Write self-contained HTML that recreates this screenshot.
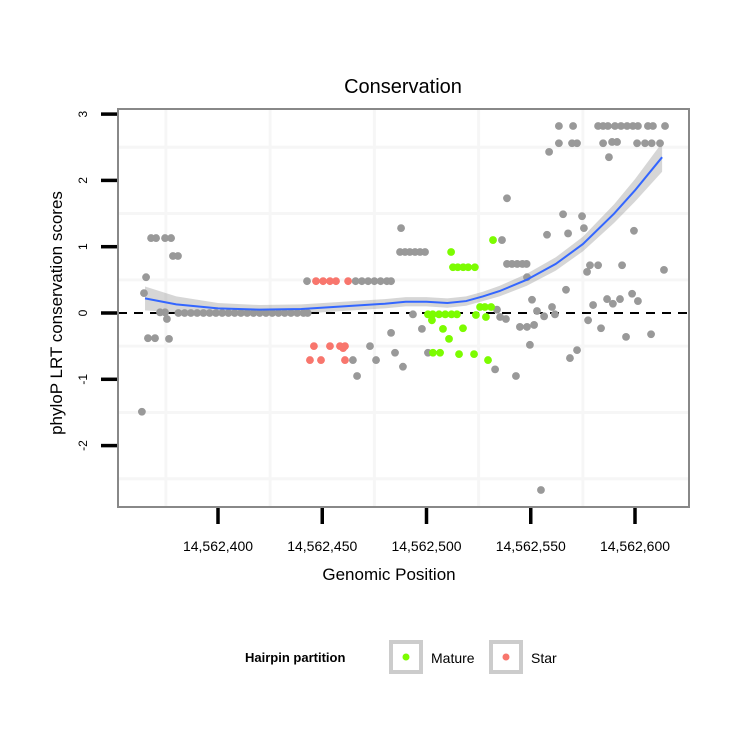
<!DOCTYPE html>
<html><head><meta charset="utf-8"><style>
body{margin:0;background:#fff}
svg{font-family:"Liberation Sans",sans-serif}
</style></head><body>
<svg id="chart" width="750" height="750" viewBox="0 0 750 750">
<rect width="750" height="750" fill="#fff"/>
<text x="403" y="93" font-size="20" text-anchor="middle">Conservation</text>
<g id="grid"></g>
<g id="ribbon"></g>
<line x1="118" x2="689" y1="313" y2="313" stroke="#000" stroke-width="2" stroke-dasharray="9,7"/>
<g id="points"></g>
<g id="smooth"></g>
<rect x="118" y="109" width="571" height="398" fill="none" stroke="#888" stroke-width="2"/>
<g id="axes"></g>
<text x="389" y="580" font-size="17" text-anchor="middle">Genomic Position</text>
<text transform="translate(62,313) rotate(-90)" font-size="17" text-anchor="middle">phyloP LRT conservation scores</text>
<g>
<text x="245" y="662" font-size="13" font-weight="bold">Hairpin partition</text>
<g>
<rect x="391" y="642" width="30" height="30" fill="#fff" stroke="#ccc" stroke-width="4"/>
<circle cx="406" cy="657" r="3.5" fill="#7cfc00"/>
<text x="431" y="663" font-size="14">Mature</text></g>
<g>
<rect x="491" y="642" width="30" height="30" fill="#fff" stroke="#ccc" stroke-width="4"/>
<circle cx="506" cy="657" r="3.5" fill="#f8766d"/>
<text x="531" y="663" font-size="14">Star</text></g>
</g>
</svg>
<script>
const xTicks=[14562400,14562450,14562500,14562550,14562600];
const yTicks=[3,2,1,0,-1,-2];
const grayX=[14562363.5,14562365.5,14562364.5,14562367.9,14562370.3,14562374.6,14562377.5,14562378.4,14562380.8,14562372.2,14562374.6,14562381,14562384,14562387,14562390,14562393,14562396,14562399,14562402,14562405,14562408,14562411,14562414,14562417,14562420,14562423,14562426,14562429,14562432,14562435,14562438,14562441,14562443,14562375.5,14562366.4,14562369.8,14562376.5,14562442.7,14562466,14562469,14562472,14562475,14562478,14562481,14562483,14562464.7,14562466.7,14562472.9,14562475.8,14562483,14562484.9,14562488.7,14562487.8,14562487.3,14562489.7,14562492,14562494.5,14562496.9,14562499.3,14562493.5,14562497.8,14562500.7,14562533.8,14562535.3,14562538.1,14562532.9,14562536.2,14562538.6,14562538.6,14562541,14562543.5,14562546,14562548,14562542.9,14562548.2,14562544.8,14562548.2,14562550.6,14562551.6,14562549.6,14562553,14562556.4,14562560.2,14562561.6,14562566.9,14562568.8,14562572.2,14562554.9,14562557.8,14562558.8,14562563.5,14562570.3,14562563.5,14562569.8,14562572.2,14562565.5,14562567.9,14562574.6,14562575.5,14562577.5,14562579.9,14562577,14562578.4,14562582.3,14562583.7,14562582.3,14562584.7,14562587,14562584.7,14562589,14562591.4,14562587.5,14562586.6,14562589.4,14562592.8,14562593.8,14562595.7,14562598.6,14562601.4,14562599.5,14562590.4,14562593.3,14562596.2,14562599,14562601.4,14562606.2,14562608.6,14562614.4,14562601,14562604.8,14562608,14562612,14562607.7,14562613.9];
const grayY=[-1.49,0.54,0.30,1.13,1.13,1.13,1.13,0.86,0.86,0.01,0.01,0,0,0,0,0,0,0,0,0,0,0,0,0,0,0,0,0,0,0,0,0,0,-0.09,-0.38,-0.38,-0.39,0.48,0.48,0.48,0.48,0.48,0.48,0.48,0.48,-0.71,-0.95,-0.50,-0.71,-0.30,-0.60,-0.81,1.28,0.92,0.92,0.92,0.92,0.92,0.92,-0.02,-0.24,-0.60,0.05,-0.06,-0.09,-0.85,1.10,1.73,0.74,0.74,0.74,0.74,0.74,-0.95,0.54,-0.21,-0.21,0.20,-0.18,-0.48,0.03,-0.05,0.09,-0.02,0.35,-0.68,-0.56,-2.67,1.18,2.43,2.82,2.82,2.56,2.56,2.56,1.49,1.20,1.46,1.28,-0.11,0.12,0.62,0.72,0.72,-0.23,2.82,2.82,2.82,2.56,2.58,2.58,2.35,0.21,0.14,0.21,0.72,-0.36,0.29,0.18,1.24,2.82,2.82,2.82,2.82,2.82,2.82,2.82,2.82,2.56,2.56,2.56,2.56,-0.32,0.65];
const starX=[14562447,14562450.4,14562453.7,14562456.6,14562462.4,14562446,14562453.7,14562458.5,14562460.9,14562460,14562444.1,14562449.4,14562460.9];
const starY=[0.48,0.48,0.48,0.48,0.48,-0.50,-0.50,-0.50,-0.50,-0.53,-0.71,-0.71,-0.71];
const matureX=[14562511.8,14562512.7,14562515,14562517.6,14562520,14562523.2,14562531.9,14562500.7,14562503,14562506,14562509,14562512,14562514.6,14562502.6,14562507.9,14562510.8,14562517.5,14562503.1,14562506.5,14562515.6,14562522.8,14562529.5,14562523.7,14562528.5,14562525.7,14562528,14562531];
const matureY=[0.92,0.69,0.69,0.69,0.69,0.69,1.10,-0.02,-0.02,-0.02,-0.02,-0.02,-0.02,-0.11,-0.24,-0.39,-0.23,-0.60,-0.60,-0.62,-0.62,-0.71,-0.03,-0.06,0.09,0.09,0.09];
const smoothX=[14562365,14562380,14562400,14562420,14562440,14562460,14562480,14562490,14562500,14562510,14562519,14562527,14562535,14562548,14562562,14562575,14562590,14562600,14562613];
const smoothY=[0.22,0.13,0.07,0.05,0.06,0.10,0.14,0.17,0.17,0.15,0.18,0.25,0.33,0.50,0.74,1.04,1.50,1.85,2.35];
const smoothSE=[0.18,0.12,0.08,0.07,0.07,0.07,0.07,0.07,0.07,0.07,0.07,0.07,0.08,0.09,0.1,0.11,0.14,0.17,0.22];

const sx=v=>218+(v-14562400)*2.085;
const sy=v=>313-v*66.3;
const NS='http://www.w3.org/2000/svg';
function mk(tag,attrs,parent){const e=document.createElementNS(NS,tag);for(const k in attrs)e.setAttribute(k,attrs[k]);parent.appendChild(e);return e;}
const grid=document.getElementById('grid');
xTicks.forEach(t=>{
  const l=mk('line',{x1:sx(t-25),x2:sx(t-25),y1:109,y2:507,stroke:'#f6f6f6','stroke-width':3},grid);
  
  
});
yTicks.forEach(t=>{
  const l=mk('line',{x1:118,x2:689,y1:sy(t-0.5),y2:sy(t-0.5),stroke:'#f6f6f6','stroke-width':3},grid);
  
  
});
let up=smoothX.map((x,i)=>sx(x)+','+sy(smoothY[i]+smoothSE[i]));
let dn=smoothX.map((x,i)=>sx(x)+','+sy(smoothY[i]-smoothSE[i])).reverse();
const rib=mk('polygon',{points:up.concat(dn).join(' '),fill:'#999','fill-opacity':0.4},document.getElementById('ribbon'));


const pts=document.getElementById('points');
function drawPts(xs,ys,col,name){xs.forEach((x,i)=>{
  const c=mk('circle',{cx:sx(x),cy:sy(ys[i]),r:3.9,fill:col},pts);
  
  
});}
drawPts(grayX,grayY,'#999','point-other');
drawPts(starX,starY,'#f8766d','point-star');
drawPts(matureX,matureY,'#7cfc00','point-mature');
const sm=mk('polyline',{points:smoothX.map((x,i)=>sx(x)+','+sy(smoothY[i])).join(' '),fill:'none',stroke:'#3366ff','stroke-width':2},document.getElementById('smooth'));


const ax=document.getElementById('axes');
xTicks.forEach(t=>{
  const l=mk('line',{x1:sx(t),x2:sx(t),y1:508,y2:524,stroke:'#000','stroke-width':3.5},ax);
  
  
  const tx=mk('text',{x:sx(t),y:551,'font-size':14,'text-anchor':'middle'},ax);
  tx.textContent=t.toLocaleString('en-US');
  
  
});
yTicks.forEach(t=>{
  const l=mk('line',{x1:101,x2:117,y1:sy(t),y2:sy(t),stroke:'#000','stroke-width':3.5},ax);
  
  
  const tx=mk('text',{transform:'translate(87,'+sy(t)+') rotate(-90)','font-size':12,'text-anchor':'middle'},ax);
  tx.textContent=String(t);
  
  
});
</script>
</body></html>
